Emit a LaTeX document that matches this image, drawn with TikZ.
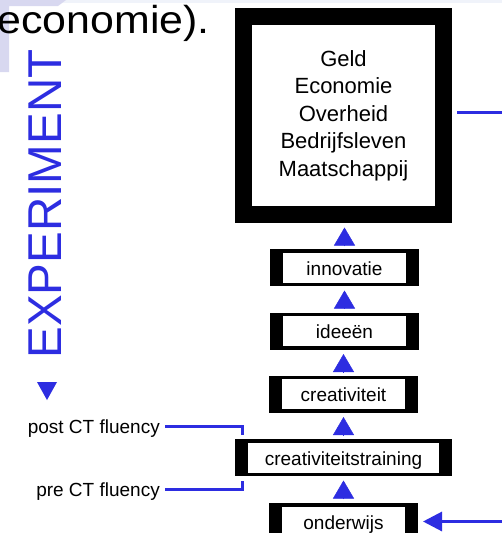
\documentclass[tikz,border=0pt]{standalone}
\usepackage{fontspec}
\setmainfont{Liberation Sans}
\newfontfamily\widefont[FakeStretch=1.1]{Liberation Sans}
\usetikzlibrary{arrows.meta,calc}
\definecolor{myblue}{RGB}{45,45,225}
\definecolor{lav}{RGB}{216,216,240}
\definecolor{topband}{RGB}{240,243,250}
\begin{document}
\begin{tikzpicture}[x=1pt,y=-1pt,
  bigbox/.style={draw=black, line width=17pt, fill=white, inner sep=0pt,
    minimum width=200pt, minimum height=198pt, align=center,
    font=\fontsize{22}{27.5}\selectfont},
  smallbox/.style={draw=black, line width=3.5pt, fill=white, inner sep=0pt,
    minimum height=33.5pt, text height=15.4pt, text depth=0pt,
    font=\fontsize{19}{23}\selectfont,
    path picture={
      \fill[black] (path picture bounding box.south west) rectangle ([xshift=11pt]path picture bounding box.north west);
      \fill[black] (path picture bounding box.south east) rectangle ([xshift=-11pt]path picture bounding box.north east);}},
  flabel/.style={inner sep=0pt, text height=14pt, text depth=0pt,
    font=\fontsize{19}{23}\selectfont, anchor=east},
  bline/.style={draw=myblue, line width=3pt},
  uptip/.style={draw=myblue, fill=myblue, line width=0.5pt,
    -{Triangle[length=18pt,width=21pt]}},
]
\useasboundingbox (0,0) rectangle (502,533);
\fill[white] (0,0) rectangle (502,533);
\fill[topband] (0,0) rectangle (502,3);
\fill[lav] (0,0) -- (66,0) -- (58,6) -- (9,6) -- (9,72) -- (0,72) -- cycle;

% top text
\node[anchor=base east, inner sep=0pt, font=\widefont\fontsize{39}{42}\selectfont] (econ) at (210,33) {economie).};

% EXPERIMENT
\node[rotate=90, inner sep=0pt, text=myblue, font=\fontsize{47.5}{50}\selectfont] (exp) at (45.5,204) {EXPERIMENT};
\fill[myblue] (37,382) -- (57,382) -- (47,400) -- cycle;

% boxes
\node[bigbox] (top) at (343.5,115.5) {Geld\\Economie\\Overheid\\Bedrijfsleven\\Maatschappij};
\node[smallbox, minimum width=145.5pt] (inno) at (344.5,267.5) {innovatie};
\node[smallbox, minimum width=145.5pt] (idee) at (344.5,331) {ideeën};
\node[smallbox, minimum width=145.5pt] (crea) at (343.5,394) {creativiteit};
\node[smallbox, minimum width=213.5pt] (train) at (343.5,457.5) {creativiteitstraining};
\node[smallbox, minimum width=145.5pt] (ond) at (343.5,521.5) {onderwijs};

% upward triangles
\draw[uptip, shorten <=3pt, shorten >=4.5pt] (inno.north) -- (top.south -| inno.north);
\draw[uptip, shorten <=4pt, shorten >=4.5pt] (idee.north) -- (inno.south);
\draw[uptip, shorten <=4pt, shorten >=4.5pt] (crea.north) -- (crea.north |- idee.south);
\draw[uptip, shorten <=4pt, shorten >=4.5pt] (train.north) -- (crea.south);
\draw[uptip, shorten <=4pt, shorten >=4.5pt] (ond.north) -- (train.south);

% fluency labels
\node[flabel] (post) at (160,426) {post CT fluency};
\node[flabel] (pre) at (160,489) {pre CT fluency};
\draw[bline, shorten <=5pt, shorten >=4pt] (post.east) -| ([xshift=7pt]train.north west);
\draw[bline, shorten <=5pt, shorten >=5pt] (pre.east) -| ([xshift=7pt]train.south west);

% right side lines
\coordinate (outR) at (506,112);
\draw[bline, shorten <=5pt] (top.east |- outR) -- (outR);
\coordinate (inR) at (506,521.5);
\draw[bline, -{Triangle[length=19pt,width=19pt]}, shorten >=5pt] (inR) -- (ond.east);
\end{tikzpicture}
\end{document}
